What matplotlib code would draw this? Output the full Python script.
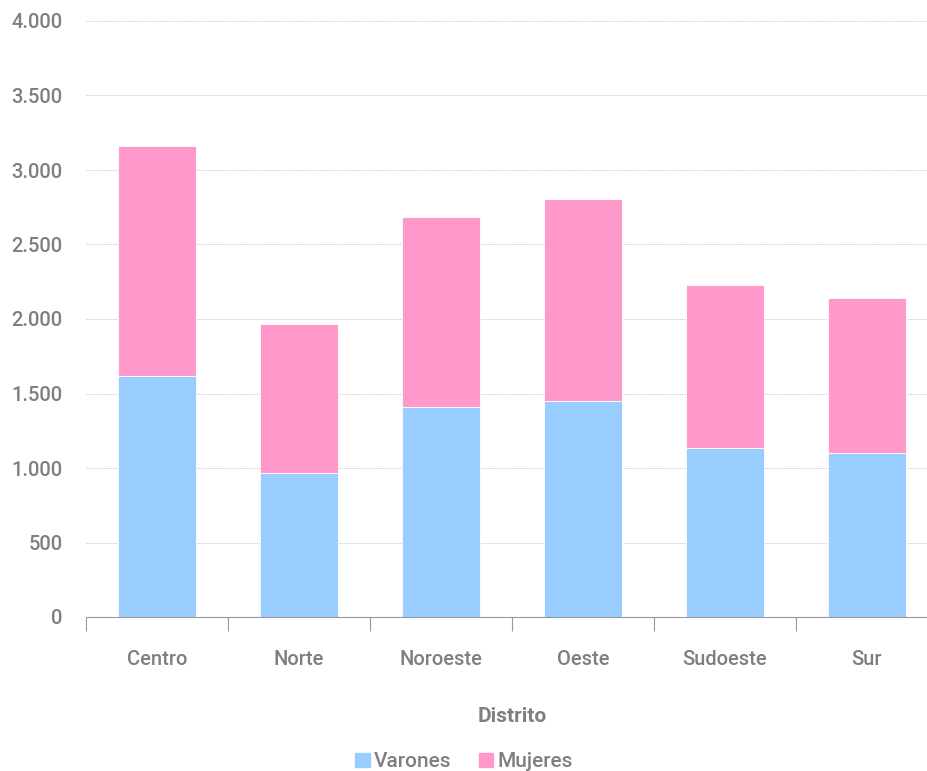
import numpy as np
import matplotlib.pyplot as plt
from matplotlib.patches import Patch

# data
distritos = ['Centro', 'Norte', 'Noroeste', 'Oeste', 'Sudoeste', 'Sur']
varones = [1620, 968, 1411, 1452, 1136, 1103]
mujeres = [1540, 996, 1271, 1352, 1089, 1035]
yticks = [0, 500, 1000, 1500, 2000, 2500, 3000, 3500, 4000]

plt.rcParams['font.family'] = ['Roboto', 'DejaVu Sans']
plt.rcParams['font.weight'] = 'medium'
gray = '#7f7f7f'
blue = '#99ccff'
pink = '#ff99cc'

fig = plt.figure(figsize=(9.28, 7.71), dpi=100)
ax = fig.add_axes([86 / 928, 154 / 771, 852 / 928, 596 / 771])

x = np.arange(len(distritos))
ax.bar(x, varones, width=0.555, color=blue, edgecolor='white', linewidth=0.6, zorder=2)
ax.bar(x, mujeres, width=0.555, bottom=varones, color=pink, edgecolor='white', linewidth=0.6, zorder=2)

ax.set_xlim(-0.5, 5.5)
ax.set_ylim(0, 4000)
ax.set_yticks(yticks)
ax.set_yticklabels([f'{v:,}'.replace(',', '.') for v in yticks])
ax.set_xticks(x)
ax.set_xticklabels(distritos)
ax.set_xticks(np.arange(-0.5, 6, 1), minor=True)

ax.tick_params(axis='y', length=0, pad=17, labelsize=14.5, labelcolor=gray)
ax.tick_params(axis='x', which='major', length=0, pad=24, labelsize=14.5, labelcolor=gray)
ax.tick_params(axis='x', which='minor', length=10, width=0.8, color='#999999')

ax.grid(axis='y', color='#d0d0d0', linestyle=(0, (1.5, 1)), linewidth=0.7, zorder=0)
for s in ['top', 'right', 'left']:
    ax.spines[s].set_visible(False)
ax.spines['bottom'].set_color('#999999')
ax.spines['bottom'].set_linewidth(0.8)

ax.set_xlabel('Distrito', fontsize=15, fontweight='bold', color=gray, labelpad=27)

handles = [Patch(color=blue, label='Varones'), Patch(color=pink, label='Mujeres')]
fig.legend(handles=handles, loc='center', bbox_to_anchor=(0.5, 0.012), ncol=2, frameon=False,
           fontsize=15, labelcolor=gray, handlelength=0.7, handleheight=0.7,
           handletextpad=0.2, columnspacing=1.3)

fig.savefig('out.png', dpi=100)
